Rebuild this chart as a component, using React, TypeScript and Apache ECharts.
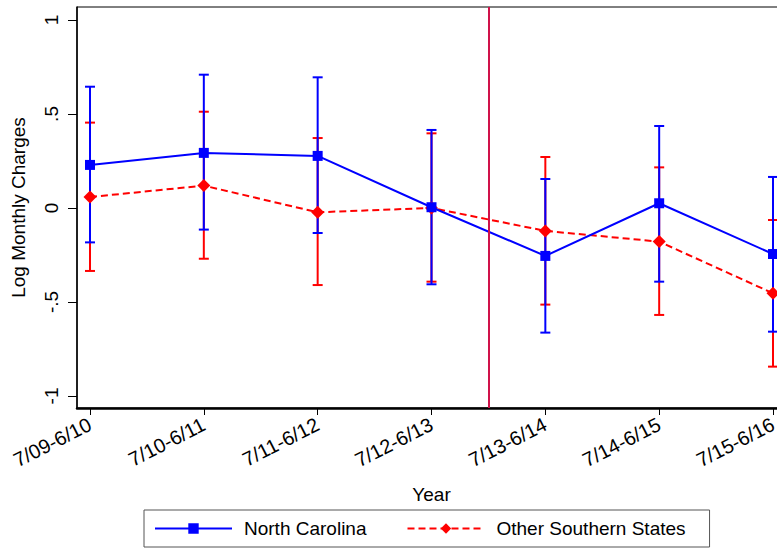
import React, { useEffect, useRef } from "react";
import * as echarts from "echarts";

const categories = ["7/09-6/10", "7/10-6/11", "7/11-6/12", "7/12-6/13", "7/13-6/14", "7/14-6/15", "7/15-6/16"];
const xPositions = [1, 2, 3, 4, 5, 6, 7];
const ncEst = [0.229, 0.293, 0.277, 0.004, -0.255, 0.025, -0.245];
const ncLow = [-0.183, -0.115, -0.133, -0.406, -0.663, -0.392, -0.658];
const ncHigh = [0.645, 0.709, 0.695, 0.415, 0.154, 0.436, 0.165];
const ossEst = [0.058, 0.119, -0.023, 0.0, -0.122, -0.179, -0.454];
const ossLow = [-0.335, -0.27, -0.41, -0.392, -0.514, -0.569, -0.844];
const ossHigh = [0.454, 0.512, 0.372, 0.397, 0.271, 0.216, -0.064];
const yTickValues = [-1, -0.5, 0, 0.5, 1];
const yTickLabels = ["-1", "-.5", "0", ".5", "1"];
const policyLineX = 4.5;

const FONT = "Arial, 'Liberation Sans', sans-serif";

function errorBarRenderer(color: string) {
  return (params: any, api: any) => {
    const x = api.value(0);
    const lo = api.value(1);
    const hi = api.value(2);
    const pHi = api.coord([x, hi]);
    const pLo = api.coord([x, lo]);
    const hw = 5;
    const style = { stroke: color, lineWidth: 2 };
    return {
      type: "group",
      children: [
        { type: "line", shape: { x1: pHi[0], y1: pHi[1], x2: pLo[0], y2: pLo[1] }, style },
        { type: "line", shape: { x1: pHi[0] - hw, y1: pHi[1], x2: pHi[0] + hw, y2: pHi[1] }, style },
        { type: "line", shape: { x1: pLo[0] - hw, y1: pLo[1], x2: pLo[0] + hw, y2: pLo[1] }, style },
      ],
    };
  };
}

export default function App() {
  const ref = useRef<HTMLDivElement>(null);
  useEffect(() => {
    if (!ref.current) return;
    const chart = echarts.init(ref.current, null, { renderer: "svg" });
    const ncBars = xPositions.map((x, i) => [x, ncLow[i], ncHigh[i]]);
    const ossBars = xPositions.map((x, i) => [x, ossLow[i], ossHigh[i]]);
    chart.setOption({
      animation: false,
      backgroundColor: "#ffffff",
      textStyle: { fontFamily: FONT },
      grid: {
        left: 77,
        top: 7,
        right: 0,
        height: 401,
        show: true,
        borderColor: "#000",
        borderWidth: 1,
        containLabel: false,
      },
      legend: {
        data: ["North Carolina", "Other Southern States"],
        left: 144,
        top: 510,
        orient: "horizontal",
        padding: [9, 24, 9, 10],
        itemGap: 40,
        itemWidth: 77,
        itemHeight: 13,
        borderColor: "#555",
        borderWidth: 1,
        textStyle: { fontSize: 19, color: "#000", fontFamily: FONT, padding: [0, 0, 0, 7] },
      },
      xAxis: {
        type: "value",
        min: 0.886,
        max: 7.114,
        name: "Year",
        nameLocation: "middle",
        nameGap: 77,
        nameTextStyle: { fontSize: 19, color: "#000", fontFamily: FONT },
        splitLine: { show: false },
        axisLine: { show: true, onZero: false, lineStyle: { color: "#000", width: 2.5 } },
        axisTick: { show: true, length: 7, lineStyle: { color: "#000", width: 1 }, customValues: xPositions },
        axisLabel: {
          customValues: xPositions,
          rotate: 27,
          margin: 15,
          fontSize: 20,
          color: "#000",
          fontFamily: FONT,
          formatter: (v: number) => {
            const i = xPositions.indexOf(Math.round(v));
            return i >= 0 ? categories[i] : "";
          },
        },
      },
      yAxis: {
        type: "value",
        min: -1.064,
        max: 1.069,
        name: "Log Monthly Charges",
        nameLocation: "middle",
        nameGap: 49,
        nameTextStyle: { fontSize: 19, color: "#000", fontFamily: FONT },
        splitLine: { show: false },
        axisLine: { show: true, onZero: false, lineStyle: { color: "#000", width: 1.5 } },
        axisTick: { show: true, length: 9, lineStyle: { color: "#000", width: 1 }, customValues: yTickValues },
        axisLabel: {
          customValues: yTickValues,
          rotate: 90,
          margin: 16,
          fontSize: 19,
          color: "#000",
          fontFamily: FONT,
          formatter: (v: number) => {
            const i = yTickValues.findIndex((t) => Math.abs(t - v) < 1e-6);
            return i >= 0 ? yTickLabels[i] : "";
          },
        },
      },
      series: [
        {
          name: "oss-ci",
          type: "custom",
          renderItem: errorBarRenderer("#ff0000"),
          data: ossBars,
          encode: { x: 0, y: [1, 2] },
          z: 1,
          silent: true,
        },
        {
          name: "nc-ci",
          type: "custom",
          renderItem: errorBarRenderer("#0000ff"),
          data: ncBars,
          encode: { x: 0, y: [1, 2] },
          z: 2,
          silent: true,
        },
        {
          name: "Other Southern States",
          type: "line",
          data: xPositions.map((x, i) => [x, ossEst[i]]),
          symbol: "diamond",
          symbolSize: 13,
          itemStyle: { color: "#ff0000" },
          lineStyle: { color: "#ff0000", width: 2, type: [7, 4] },
          z: 3,
        },
        {
          name: "North Carolina",
          type: "line",
          data: xPositions.map((x, i) => [x, ncEst[i]]),
          symbol: "rect",
          symbolSize: 10,
          itemStyle: { color: "#0000ff" },
          lineStyle: { color: "#0000ff", width: 2 },
          z: 4,
          markLine: {
            silent: true,
            symbol: "none",
            label: { show: false },
            lineStyle: { color: "#d0124a", width: 2, type: "solid" },
            data: [{ xAxis: policyLineX }],
          },
        },
      ],
    });
    return () => chart.dispose();
  }, []);
  return (
    <div style={{ position: "fixed", left: 0, top: 0, width: 777, height: 550, overflow: "hidden", background: "#fff" }}>
      <div ref={ref} style={{ position: "absolute", left: 0, top: 0, width: 786, height: 550 }} />
    </div>
  );
}
